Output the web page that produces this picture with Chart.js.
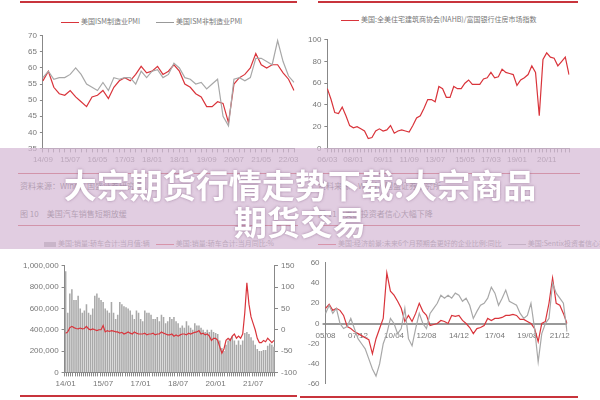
<!DOCTYPE html>
<html lang="zh">
<head>
<meta charset="UTF-8" />
<title>大宗期货行情走势下载:大宗商品期货交易</title>
<script src="https://cdn.jsdelivr.net/npm/chart.js"></script>
<style>
  body { margin: 0; width: 600px; height: 400px; background: #fff; position: relative; overflow: hidden; font-family: "Noto Sans CJK SC", sans-serif; }
  .box { position: absolute; }
  .rule { position: absolute; height: 2px; background: #c8343c; }
  .leg { position: absolute; font-size: 7px; color: #777; white-space: nowrap; }
  .leg i { display: inline-block; vertical-align: middle; margin: 0 2px 0 6px; }
  .cap { position: absolute; font-size: 8px; color: #555; white-space: nowrap; }
  #band { position: absolute; left: 0; top: 148px; width: 600px; height: 101px; background: rgba(214, 186, 214, 0.72); }
  #title { position: absolute; left: 0; top: 166px; width: 600px; text-align: center; color: #fff; font-weight: bold; font-size: 33px; line-height: 37px; text-shadow: 0 0 3px rgba(120,80,120,0.6); }
</style>
</head>
<body>
<div class="rule" style="left:20px;top:1px;width:277px"></div>
<div class="rule" style="left:318px;top:1px;width:260px"></div>
<div class="leg" style="left:55px;top:16px"><i style="width:18px;height:1px;background:#d9343b"></i>美国ISM制造业PMI<i style="width:18px;height:1px;background:#999;margin-left:16px"></i>美国ISM非制造业PMI</div>
<div class="leg" style="left:335px;top:14px"><i style="width:18px;height:1px;background:#d9343b"></i>美国:全美住宅建筑商协会(NAHB)/富国银行住房市场指数</div>
<div class="box" style="left:25px;top:28px;width:275px;height:140px"><canvas id="c1"></canvas></div>
<div class="box" style="left:305px;top:32px;width:270px;height:136px"><canvas id="c2"></canvas></div>

<div class="rule" style="left:18px;top:173px;width:280px;height:1px"></div>
<div class="rule" style="left:318px;top:173px;width:262px;height:1px"></div>
<div class="cap" style="left:20px;top:180px">资料来源：Wind，国盛证券研究所</div>
<div class="cap" style="left:318px;top:180px">资料来源：Wind，国盛证券研究所</div>
<div class="cap" style="left:20px;top:208px">图 10　美国汽车销售短期放缓</div>
<div class="cap" style="left:318px;top:208px">图 11　美国投资者信心大幅下降</div>
<div class="rule" style="left:18px;top:225px;width:280px;height:1px"></div>
<div class="rule" style="left:318px;top:225px;width:262px;height:1px"></div>

<div class="leg" style="left:38px;top:238px"><i style="width:12px;height:5px;background:#aaa"></i>美国:销量:轿车合计:当月值:辆<i style="width:18px;height:1px;background:#d9343b;margin-left:6px"></i>美国:销量:轿车合计:当月同比:%</div>
<div class="leg" style="left:312px;top:238px"><i style="width:18px;height:1px;background:#d9343b"></i>美国:经济前景:未来6个月预期会更好的企业比例:同比<i style="width:18px;height:1px;background:#999;margin-left:6px"></i>美国:Sentix投资者信心指数</div>
<div class="box" style="left:20px;top:258px;width:280px;height:134px"><canvas id="c3"></canvas></div>
<div class="box" style="left:305px;top:255px;width:270px;height:137px"><canvas id="c4"></canvas></div>
<div class="rule" style="left:20px;top:395px;width:277px"></div>
<div class="rule" style="left:300px;top:396px;width:278px"></div>

<div id="band"></div>
<div id="title">大宗期货行情走势下载:大宗商品<br>期货交易</div>

<script>
// chart 1: ISM PMI, bimonthly from 14/09
const pmiLabels = [];
for (let i = 0; i < 47; i++) {
  const m = 9 + i * 2, y = 14 + Math.floor((m - 1) / 12), mm = ((m - 1) % 12) + 1;
  pmiLabels.push(String(y).padStart(2, "0") + "/" + String(mm).padStart(2, "0"));
}
const ismMfg = [56,59,54,52,51.5,53,51,49.5,48,51,51.5,53,50.5,54,56,57,56,58,60.5,58.5,59,60.5,58,59,61,59,55,54,52,51,48,48,49.5,49,43,55,57,58,60,64.5,61,60,61,61,58.5,56.5,53];
const ismNonMfg = [57,59,56.5,57,57,58,60,58,55,54,53,55.5,53,57,56.5,57,57,55,59,57,59,59.5,57,58,61.5,60,57,56.5,55,55.5,53.5,55,56.5,45,42,56.5,57,56,57,63,63,62,61,68.5,62,57.5,55.5];
const pmiTicks = ["14/09","15/07","16/05","17/03","18/01","18/11","19/09","20/07","21/05","22/03"];

// chart 2: NAHB index, quarterly from 06/03
const nahbLabels = [];
for (let i = 0; i < 66; i++) {
  const m = 3 + i * 3, y = 6 + Math.floor((m - 1) / 12), mm = ((m - 1) % 12) + 1;
  nahbLabels.push(String(y).padStart(2, "0") + "/" + String(mm).padStart(2, "0"));
}
const nahb = [55,45,33,32,38,30,21,19,20,18,16,9,10,16,18,16,17,21,14,16,17,16,15,21,28,30,37,45,45,43,57,55,47,47,57,55,55,60,63,59,59,59,64,65,70,65,66,73,70,69,68,58,63,65,68,76,70,30,82,88,84,83,76,80,84,68];
const nahbTicks = ["06/03","08/01","09/11","11/09","13/07","15/05","17/03","19/01","20/11"];

// chart 3: car sales, monthly from 14/01
const carLabels = [];
for (let i = 0; i < 101; i++) {
  carLabels.push(String(14 + Math.floor(i / 12)).padStart(2, "0") + "/" + String(i % 12 + 1).padStart(2, "0"));
}
const carSales = [
  950,560,740,780,680,680,720,600,560,580,640,560,
  540,600,720,740,700,680,660,600,580,560,660,560,
  500,540,660,640,620,610,600,580,540,500,580,560,
  500,480,580,560,560,540,500,500,520,480,540,520,
  460,480,520,500,520,480,460,420,440,420,480,440,
  420,400,460,440,440,420,400,380,400,380,400,380,
  370,360,300,230,200,260,300,320,340,300,260,300,
  260,300,370,380,360,330,300,260,220,200,200,210,
  210,250,270,260,240].map(v => v * 1000);
const carYoY = [
  -8,-5,5,8,5,3,2,4,2,3,8,2,
  0,2,0,-2,0,0,10,-5,-2,-4,-2,-3,
  -5,-5,-8,-6,-10,-8,-5,-8,-10,-5,-8,-10,
  -10,-10,-8,-12,-10,-10,-8,-12,-10,-10,-5,-8,
  -10,-12,-12,-10,-15,-12,-15,-12,-10,-10,-12,-8,
  -10,-8,-6,-5,-2,-10,-8,-12,-10,-15,-25,-20,
  -20,-25,-40,-55,-45,-25,-20,-25,-15,-10,-20,-15,
  -20,-10,40,110,60,30,15,0,-20,-30,-30,-25,
  -28,-20,-25,-30,-25];
const carTicks = ["14/01","15/07","17/01","18/07","20/01","21/07"];

// chart 4: outlook and Sentix, quarterly from 05/08
const sentLabels = [];
for (let i = 0; i < 68; i++) {
  const m = 8 + i * 3, y = 5 + Math.floor((m - 1) / 12), mm = ((m - 1) % 12) + 1;
  sentLabels.push(String(y).padStart(2, "0") + "/" + String(mm).padStart(2, "0"));
}
const outlookYoY = [15,19,13,15,13,8,-3,-5,-8,-10,-12,-14,-16,-30,-15,-5,5,50,32,28,22,15,2,8,2,10,20,12,8,-2,-1,0,3,2,0,8,7,8,3,0,-4,-10,-5,-4,-2,5,3,5,5,6,8,8,9,8,4,4,2,0,-5,-18,0,2,20,45,20,18,10,0];
const sentix = [10,18,10,15,0,-5,-3,5,-5,-15,-20,-25,-35,-45,-52,-40,-20,-10,5,0,-10,-5,15,-15,-22,-5,10,0,-5,10,15,20,28,25,28,25,30,28,22,25,18,5,12,18,20,25,36,30,18,25,33,22,20,18,10,5,8,20,-5,-38,-10,0,5,40,30,25,20,-8];
const sentTicks = ["05/08","07/12","10/04","12/08","14/12","17/04","19/08","21/12"];

const RED = "#d9343b", GRAY = "#a8a8a8", TXT = "#777";
Chart.defaults.font.family = "'Liberation Sans', sans-serif";
Chart.defaults.font.size = 8;
Chart.defaults.color = TXT;
Chart.defaults.animation = false;
Chart.defaults.plugins.legend.display = false;
Chart.defaults.plugins.tooltip.enabled = false;
Chart.defaults.elements.point.radius = 0;
Chart.defaults.elements.line.borderWidth = 1.2;
Chart.defaults.maintainAspectRatio = false;

// ticks: label k sits at index round(k * months / step)
function xAxis(ticks, months, step) {
  const at = {};
  ticks.forEach((t, k) => { at[Math.round(k * months / step)] = t; });
  return {
    grid: { display: true, drawOnChartArea: false, color: "#888", tickLength: 4 },
    border: { color: "#888" },
    ticks: { autoSkip: false, maxRotation: 0, font: { size: 8 },
      callback: (v, i) => at[i] || "" }
  };
}
function yAxis(min, max, step, pos) {
  return {
    position: pos || "left", min, max,
    grid: { display: true, drawOnChartArea: false, color: "#888", tickLength: 3 },
    border: { color: "#888" },
    ticks: { stepSize: step, font: { size: 8 } }
  };
}

new Chart(document.getElementById("c1"), {
  type: "line",
  data: { labels: pmiLabels, datasets: [
    { data: ismNonMfg, borderColor: GRAY },
    { data: ismMfg, borderColor: RED }
  ]},
  options: { layout: { padding: { right: 6 } },
    scales: { x: xAxis(pmiTicks, 10, 2), y: yAxis(35, 70, 5) } }
});

new Chart(document.getElementById("c2"), {
  type: "line",
  data: { labels: nahbLabels, datasets: [{ data: nahb, borderColor: RED }] },
  options: { layout: { padding: { right: 6 } },
    scales: { x: xAxis(nahbTicks, 22, 3), y: yAxis(0, 100, 20) } }
});

new Chart(document.getElementById("c3"), {
  data: { labels: carLabels, datasets: [
    { type: "line", data: carYoY, borderColor: RED, yAxisID: "y1" },
    { type: "bar", data: carSales, backgroundColor: "#a9a9a9", barPercentage: 0.75, categoryPercentage: 1, yAxisID: "y" }
  ]},
  options: {
    scales: {
      x: xAxis(carTicks, 18, 1),
      y: Object.assign(yAxis(0, 1000000, 200000), { ticks: { stepSize: 200000, font: { size: 8 }, callback: v => v.toLocaleString("en-US") } }),
      y1: yAxis(-100, 150, 50, "right")
    }
  }
});

const x4 = xAxis(sentTicks, 28, 3);
x4.border = { display: false };
x4.grid.display = false;
new Chart(document.getElementById("c4"), {
  type: "line",
  data: { labels: sentLabels, datasets: [
    { data: sentix, borderColor: GRAY },
    { data: outlookYoY, borderColor: RED }
  ]},
  options: {
    layout: { padding: { right: 8 } },
    scales: {
      x: Object.assign(x4, { position: { y: 0 } }),
      y: Object.assign(yAxis(-60, 60, 20), { grid: { display: true, drawTicks: true, tickLength: 3,
        color: ctx => (ctx.tick && ctx.tick.value === 0 ? "#999" : "rgba(0,0,0,0)"), lineWidth: ctx => (ctx.tick && ctx.tick.value === 0 ? 2 : 0) } })
    }
  }
});
</script>
</body>
</html>
